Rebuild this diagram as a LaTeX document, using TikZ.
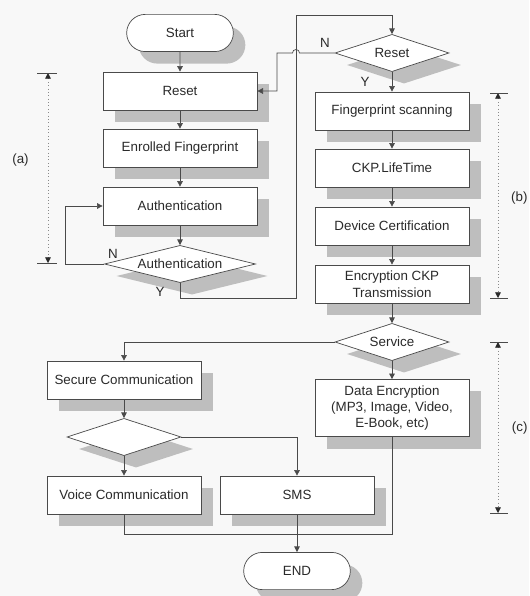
\documentclass[tikz,border=0pt]{standalone}
\usepackage{fontspec}
\setmainfont{Liberation Sans}
\usetikzlibrary{shapes.geometric, shapes.misc, shadows, arrows.meta}
\definecolor{ligne}{HTML}{4A4A4A}
\definecolor{ombre}{HTML}{BEBEBE}
\definecolor{fond}{HTML}{F8F8F8}
\definecolor{texte}{HTML}{2A2A2A}
\definecolor{cotes}{HTML}{8A8A8A}

\begin{document}
\begin{tikzpicture}[x=0.025cm, y=-0.025cm,
    every node/.style={font=\fontsize{9.5}{11.7}\selectfont, text=texte},
    ombre portee/.style={drop shadow={shadow xshift=0.3cm, shadow yshift=-0.3cm, fill=ombre, opacity=1}},
    main node/.style={rectangle, draw=ligne, fill=white, line width=0.5pt, minimum width=3.85cm, minimum height=0.95cm, align=center, ombre portee},
    test node/.style={diamond, aspect=4, inner sep=0pt, draw=ligne, fill=white, line width=0.5pt, minimum width=2.85cm, minimum height=0.93cm, ombre portee},
    term node/.style={rounded rectangle, draw=ligne, fill=white, line width=0.5pt, minimum width=2.9cm, minimum height=0.93cm, ombre portee},
    fleche/.style={draw=ligne, line width=0.5pt, -{Triangle[length=4pt, width=4pt]}},
    trait/.style={draw=ligne, line width=0.5pt},
    cote/.style={draw=cotes, line width=0.4pt, dotted, {Triangle[length=4pt, width=4pt, color=texte]}-{Triangle[length=4pt, width=4pt, color=texte]}},
    repere/.style={draw=ligne, line width=0.4pt}]
    \clip (0,0) rectangle (529,596);
    \fill[fond] (0,0) rectangle (529,596);

    % partie (a) : enregistrement
    \node[term node] (start) at (180,33) {Start};
    \node[main node] (reset) at (180,91) {Reset};
    \node[main node] (enrol) at (180,148) {Enrolled Fingerprint};
    \node[main node] (auth) at (180,206) {Authentication};
    \node[test node, minimum width=3.775cm] (adiam) at (180,264) {Authentication};
    \draw[fleche] (start) -- (reset);
    \draw[fleche] (reset) -- (enrol);
    \draw[fleche] (enrol) -- (auth);
    \draw[fleche] (auth) -- (adiam);
    \draw[fleche] (adiam.west) -- (65,264) |- (auth.west);
    \node (n1) at (113,254) {N};
    \node (y1) at (160,292) {Y};

    % partie (b) : echange de la cle
    \node[test node] (rdiam) at (392,53) {Reset};
    \node[main node] (fps) at (392,111) {Fingerprint scanning};
    \node[main node] (ckp) at (392,168) {CKP.LifeTime};
    \node[main node] (dev) at (392,226) {Device Certification};
    \node[main node] (enc) at (392,284) {Encryption CKP\\Transmission};
    \draw[fleche] (adiam.south) -- (180,298) -| (296,15) -| (rdiam.north);
    \draw[fleche] (rdiam.west) -- (299.5,53) arc[start angle=0, end angle=180, radius=2.5pt] -- (277,53) |- (reset.east);
    \draw[fleche] (rdiam.south) -- (fps.north);
    \draw[fleche] (fps) -- (ckp);
    \draw[fleche] (ckp) -- (dev);
    \draw[fleche] (dev) -- (enc);
    \node (n2) at (325,43) {N};
    \node (y2) at (365,82) {Y};

    % partie (c) : services
    \node[test node] (svc) at (392,342) {Service};
    \node[main node, minimum height=1.425cm] (data) at (392,408) {Data Encryption\\(MP3, Image, Video,\\E-Book, etc)};
    \node[main node] (scom) at (124,380) {Secure Communication};
    \node[test node] (ediam) at (124,437) {};
    \node[main node] (voice) at (124,495) {Voice Communication};
    \node[main node] (sms) at (297,495) {SMS};
    \node[term node] (endn) at (297,571) {END};
    \draw[fleche] (enc) -- (svc);
    \draw[fleche] (svc.west) -| (scom.north);
    \draw[fleche] (svc.south) -- (data.north);
    \draw[fleche] (scom) -- (ediam);
    \draw[fleche] (ediam) -- (voice);
    \draw[fleche] (ediam.east) -| (sms.north);
    \draw[trait] (voice.south) -- (124,534) -| (data.south);
    \draw[fleche] (sms.south) -- (endn.north);

    % cotes
    \coordinate (ah) at (48,73);
    \coordinate (ab) at (48,263);
    \draw[cote] (ah) -- (ab);
    \draw[repere] (ah) ++(-11,0) -- ++(20,0);
    \draw[repere] (ab) ++(-11,0) -- ++(20,0);
    \node (la) at (20.5,160) {(a)};

    \coordinate (bh) at (498,93);
    \coordinate (bb) at (498,298);
    \draw[cote] (bh) -- (bb);
    \draw[repere] (bh) ++(-8,0) -- ++(18,0);
    \draw[repere] (bb) ++(-8,0) -- ++(18,0);
    \node[anchor=east, inner sep=0.5pt] (lb) at (528.5,198) {(b)};

    \coordinate (ch) at (498,342);
    \coordinate (cb) at (498,513);
    \draw[cote] (ch) -- (cb);
    \draw[repere] (ch) ++(-8,0) -- ++(18,0);
    \draw[repere] (cb) ++(-8,0) -- ++(18,0);
    \node[anchor=east, inner sep=0.5pt] (lc) at (528.5,428) {(c)};
\end{tikzpicture}
\end{document}
